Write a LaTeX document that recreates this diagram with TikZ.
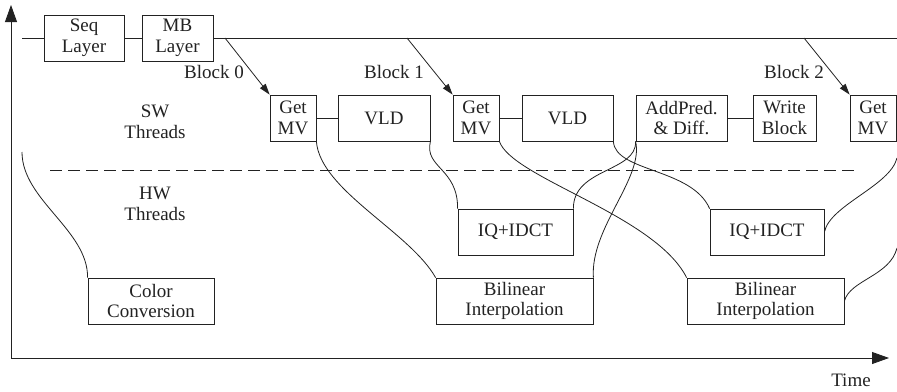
\documentclass[tikz,border=0pt]{standalone}
\usepackage{fontspec}
\setmainfont{Liberation Serif}
\newfontfamily\tms{Liberation Serif}
\usetikzlibrary{arrows.meta}
\definecolor{ink}{HTML}{222222}
\begin{document}
\begin{tikzpicture}[x=1pt,y=-1pt,
  every node/.style={text=ink,font=\tms\fontsize{19}{20.5}\selectfont,align=center,inner sep=0pt},
  box/.style={draw=ink,line width=0.8pt,fill=white,minimum height=46pt},
  wire/.style={draw=ink,line width=0.8pt},
  blockarrow/.style={wire,-{Triangle[length=11pt,width=7pt]}},
  axis/.style={wire,-{Triangle[length=17pt,width=12pt]}},
  lbl/.style={}]
\useasboundingbox (0,0) rectangle (897,391);
% axes
\coordinate (origin) at (11,358);
\coordinate (ytip) at (11,5);
\coordinate (xtip) at (889,358);
\draw[axis] (origin) -- (ytip);
\draw[axis] (origin) -- (xtip);
\node[lbl] (time) at (851,380) {Time};
% top row
\node[box,minimum width=80pt] (seq) at (84,38) {Seq\\Layer};
\node[box,minimum width=71pt] (mb) at (177.5,38) {MB\\Layer};
\coordinate (lstart) at (22,38);
\coordinate (lend) at (897,38);
\draw[wire] (lstart) -- (seq) -- (mb) -- (lend);
% SW row
\node[box,minimum width=46pt] (gmv1) at (293,118) {Get\\MV};
\node[box,minimum width=92pt] (vld1) at (384,118) {VLD};
\node[box,minimum width=46pt] (gmv2) at (476,118) {Get\\MV};
\node[box,minimum width=91pt] (vld2) at (567.5,118) {VLD};
\node[box,minimum width=91pt] (add) at (681.5,118) {AddPred.\\\& Diff.};
\node[box,minimum width=63pt] (wb) at (784.5,118) {Write\\Block};
\node[box,minimum width=46pt] (gmv3) at (873,118) {Get\\MV};
\draw[wire] (gmv1) -- (vld1);
\draw[wire] (gmv2) -- (vld2);
\draw[wire] (add) -- (wb);
% block arrows
\coordinate (b0) at (225,38);
\coordinate (b1) at (407,38);
\coordinate (b2) at (804,38);
\draw[blockarrow] (b0) -- (gmv1.north west);
\draw[blockarrow] (b1) -- (gmv2.north west);
\draw[blockarrow] (b2) -- (gmv3.north west);
\node[lbl] (bl0) at (214,72) {Block 0};
\node[lbl] (bl1) at (394,72) {Block 1};
\node[lbl] (bl2) at (794,72) {Block 2};
% labels
\node[lbl] (sw) at (155,122) {SW\\Threads};
\node[lbl] (hw) at (155,204) {HW\\Threads};
% dashed separator
\coordinate (d1) at (50,170);
\coordinate (d2) at (857,170);
\draw[wire,dash pattern=on 12pt off 6pt] (d1) -- (d2);
% HW row
\node[box,minimum width=115pt] (iq1) at (515.5,232) {IQ+IDCT};
\node[box,minimum width=114pt] (iq2) at (767,232) {IQ+IDCT};
\node[box,minimum width=126pt] (cc) at (151,301) {Color\\Conversion};
\node[box,minimum width=157pt] (bi1) at (514.5,301) {Bilinear\\Interpolation};
\node[box,minimum width=157pt] (bi2) at (765.5,301) {Bilinear\\Interpolation};
% curves
\coordinate (c0) at (22,152);
\coordinate (c8) at (897,158);
\coordinate (c9) at (897,248);
\draw[wire] (c0) .. controls (22,200) and (88,230) .. (cc.north west);
\draw[wire] (gmv1.south east) .. controls (320,190) and (410,232) .. (bi1.north west);
\draw[wire] (vld1.south east) .. controls (424,168) and (458,168) .. (iq1.north west);
\draw[wire] (gmv2.south east) .. controls (512,178) and (655,215) .. (bi2.north west);
\draw[wire] (vld2.south east) .. controls (615,172) and (692,168) .. (iq2.north west);
\draw[wire] (add.south west) .. controls (637,172) and (573,168) .. (iq1.north east);
\draw[wire] (add.south west) .. controls (644,178) and (590,228) .. (bi1.north east);
\draw[wire] (c8) .. controls (890,186) and (830,205) .. (iq2.east);
\draw[wire] (c9) .. controls (890,276) and (850,280) .. (bi2.east);
\end{tikzpicture}
\end{document}
